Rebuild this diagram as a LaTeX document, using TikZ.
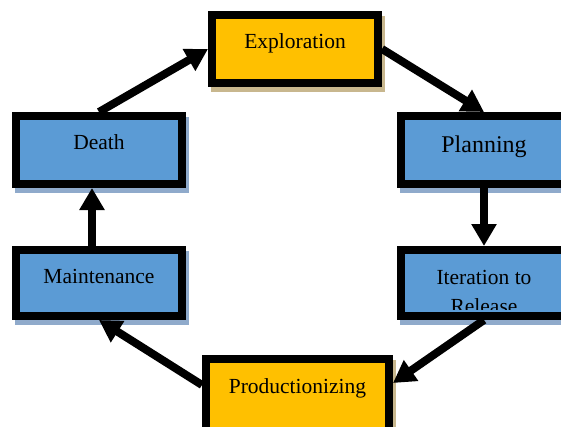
\documentclass[tikz,border=0pt]{standalone}
\usepackage{fontspec}
\setmainfont{Liberation Serif}
\usetikzlibrary{arrows.meta,calc}
\pgfdeclarelayer{background}
\pgfsetlayers{background,main}
\definecolor{boxblue}{HTML}{5B9BD5}
\definecolor{boxgold}{HTML}{FFC000}
\definecolor{shadeblue}{HTML}{8FAACB}
\definecolor{shadetan}{HTML}{C8B78E}
\tikzset{
  stage/.style={draw=black, line width=8pt, minimum width=166pt, minimum height=68pt, inner sep=0pt},
  bluestage/.style={stage, fill=boxblue},
  goldstage/.style={stage, fill=boxgold},
  caption/.style={anchor=base, inner sep=0pt, font=\fontsize{21.5}{27}\selectfont},
  flow/.style={line width=8pt, -{Triangle[width=24pt,length=22pt]}},
}
% drop shadow behind a stage box
\newcommand\stageshadow[2]{%
  \begin{pgfonlayer}{background}
    \fill[#2] ($(#1.south west)+(3,-5)$) rectangle ($(#1.north east)+(3,-5)$);
  \end{pgfonlayer}}
\begin{document}
\begin{tikzpicture}[x=1pt,y=1pt]
  \useasboundingbox (0,0) rectangle (561,426);

  % stage boxes
  \node[goldstage] (expl) at (295,377) {};
  \node[bluestage] (plan) at (484,276) {};
  \node[bluestage, minimum height=66pt] (iter) at (484,143) {};
  \node[goldstage, minimum width=183pt, minimum height=76pt] (prod) at (297.5,29) {};
  \node[bluestage, minimum height=66pt] (maint) at (99,143) {};
  \node[bluestage] (death) at (99,276) {};

  \stageshadow{expl}{shadetan}
  \stageshadow{plan}{shadeblue}
  \stageshadow{iter}{shadeblue}
  \stageshadow{prod}{shadetan}
  \stageshadow{maint}{shadeblue}
  \stageshadow{death}{shadeblue}

  % captions
  \node[caption] (explText) at (expl.center) {Exploration};
  \node[caption, font=\fontsize{24}{29}\selectfont] (planText) at ($(plan.center)+(0,-3)$) {Planning};
  \begin{scope}
    % the two-line caption overflows its box and is cut at the text area
    \clip ($(iter.south west)+(8,10.5)$) rectangle ($(iter.north east)+(-8,-8)$);
    \node[caption, align=center] (iterText) at ($(iter.center)+(0,-30)$) {Iteration to\\[2pt]Release};
  \end{scope}
  \node[caption] (prodText) at ($(prod.center)+(0,4)$) {Productionizing};
  \node[caption] (maintText) at (maint.center) {Maintenance};
  \node[caption] (deathText) at (death.center) {Death};

  % flow arrows
  \draw[flow] (death.north) -- (expl.west);
  \draw[flow] (expl.east) -- (plan.north);
  \draw[flow] (plan.south) -- (iter.north);
  \draw[flow] (iter.south) -- ($(prod.east)+(0,14)$);
  \draw[flow] ($(prod.west)+(0,12)$) -- (maint.south);
  \draw[flow] ($(maint.north)+(-7,0)$) -- ($(death.south)+(-7,0)$);
\end{tikzpicture}
\end{document}
